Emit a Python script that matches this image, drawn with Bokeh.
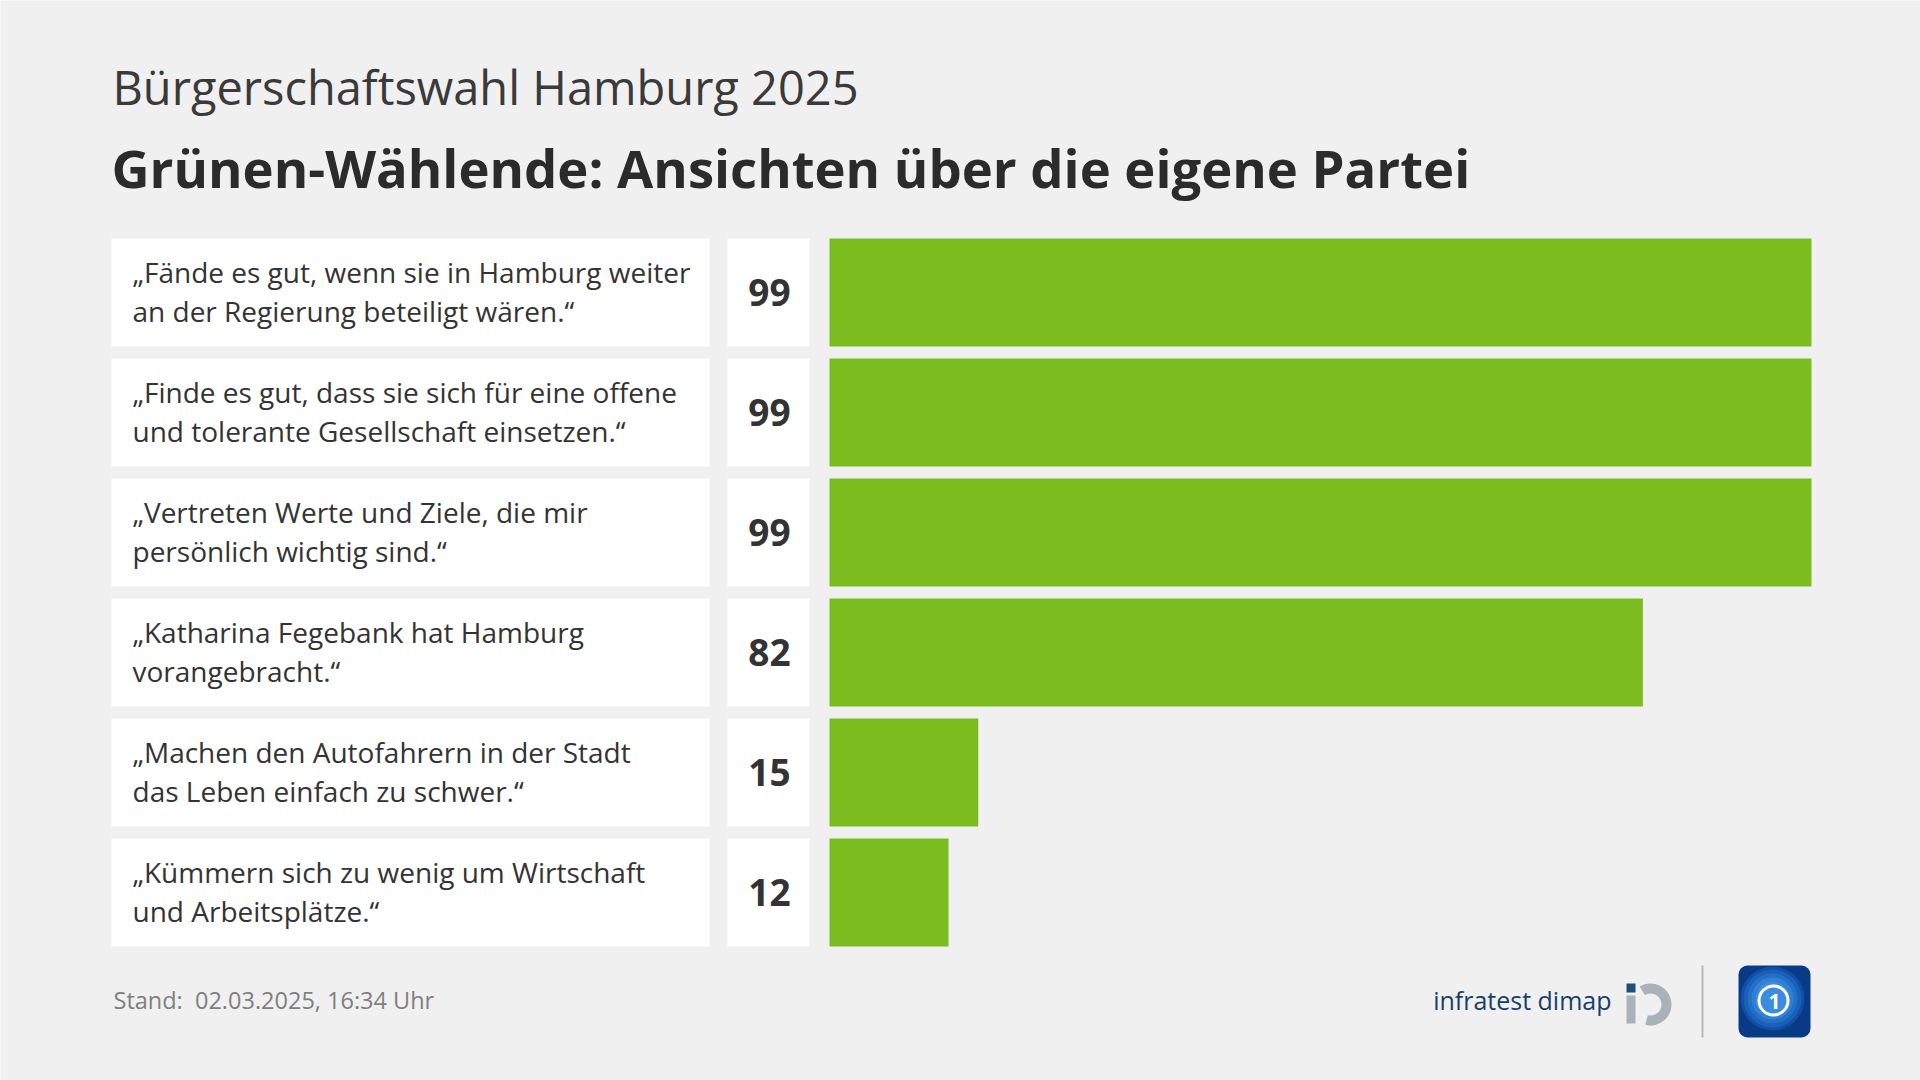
from bokeh.plotting import figure
from bokeh.models import Range1d, BoxAnnotation
from bokeh.core.properties import value
from bokeh.embed import file_html
from bokeh.resources import INLINE

# ---------------- data ----------------
subtitle = "Bürgerschaftswahl Hamburg 2025"
title = "Grünen-Wählende: Ansichten über die eigene Partei"
labels = [
    "„Fände es gut, wenn sie in Hamburg weiter\nan der Regierung beteiligt wären.“",
    "„Finde es gut, dass sie sich für eine offene\nund tolerante Gesellschaft einsetzen.“",
    "„Vertreten Werte und Ziele, die mir\npersönlich wichtig sind.“",
    "„Katharina Fegebank hat Hamburg\nvorangebracht.“",
    "„Machen den Autofahrern in der Stadt\ndas Leben einfach zu schwer.“",
    "„Kümmern sich zu wenig um Wirtschaft\nund Arbeitsplätze.“",
]
values = [99, 99, 99, 82, 15, 12]
footer = "Stand:\u00a0 02.03.2025, 16:34 Uhr"
source = "infratest dimap"

# ---------------- layout / style ----------------
FONT = "Open Sans"
BG = "#f0f0f0"
GREEN = "#7bbd1f"
DARK = "#333333"
ROW_TOP0, ROW_PITCH, ROW_H = 238, 120, 108
BAR_X0, PX_PER_UNIT = 829, 982 / 99.0
W, H = 1920, 1080

n = len(values)
tops = [ROW_TOP0 + i * ROW_PITCH for i in range(n)]
bottoms = [t + ROW_H for t in tops]
centers = [t + ROW_H / 2 for t in tops]
line1 = [s.split("\n")[0] for s in labels]
line2 = [s.split("\n")[1] if "\n" in s else "" for s in labels]
num_txt = [str(v) for v in values]

x0 = (0 - BAR_X0) / PX_PER_UNIT
x1 = (W - BAR_X0) / PX_PER_UNIT

p = figure(width=W, height=H, output_backend="svg", toolbar_location=None,
           x_range=Range1d(x0, x1), y_range=Range1d(H, 0), min_border=0)
p.extra_x_ranges = {"px": Range1d(0, W)}
p.axis.visible = False
p.grid.visible = False
p.outline_line_color = None
p.background_fill_color = BG
p.border_fill_color = BG

# white boxes
p.quad(left=111, right=709, top=tops, bottom=bottoms, x_range_name="px",
       fill_color="white", line_color=None)
p.quad(left=727, right=809, top=tops, bottom=bottoms, x_range_name="px",
       fill_color="white", line_color=None)

# bars (value scale)
p.hbar(y=centers, left=0, right=values, height=ROW_H, fill_color=GREEN, line_color=None)

# label text
p.text(x=[132] * n, y=[t + 33 for t in tops], text=line1, x_range_name="px",
       text_font=value(FONT), text_font_size="28px", text_color=DARK,
       text_baseline="alphabetic", text_align="left")
p.text(x=[132] * n, y=[t + 72 for t in tops], text=line2, x_range_name="px",
       text_font=value(FONT), text_font_size="28px", text_color=DARK,
       text_baseline="alphabetic", text_align="left")

# numbers
p.text(x=[769] * n, y=[c for c in centers], text=num_txt, x_range_name="px",
       text_font=value(FONT), text_font_size="37px", text_font_style="bold",
       text_color=DARK, text_baseline="middle", text_align="center")

# titles
p.text(x=[112], y=[86], text=[subtitle], x_range_name="px",
       text_font=value(FONT), text_font_size="47px", text_color="#3a3a3a",
       text_baseline="alphabetic", text_align="left")
p.text(x=[111], y=[167], text=[title], x_range_name="px",
       text_font=value(FONT), text_font_size="52.6px", text_font_style="bold",
       text_color="#2b2b2b", text_baseline="alphabetic", text_align="left")

# footer
p.text(x=[113], y=[999], text=[footer], x_range_name="px",
       text_font=value(FONT), text_font_size="23.5px", text_color="#7f7f7f",
       text_baseline="alphabetic", text_align="left")

# infratest dimap logo
p.text(x=[1611], y=[999], text=[source], x_range_name="px",
       text_font=value(FONT), text_font_size="25px",
       text_color="#163f6c", text_baseline="alphabetic", text_align="right")
p.quad(left=1626, right=1635, top=983, bottom=992, x_range_name="px",
       fill_color="#1d4f7a", line_color=None)
p.quad(left=1626, right=1635, top=995, bottom=1023, x_range_name="px",
       fill_color="#a9b1b9", line_color=None)
p.annular_wedge(x=1650, y=1004, inner_radius=11, outer_radius=21,
                inner_radius_units="screen", outer_radius_units="screen",
                start_angle=-1.82, end_angle=2.11, direction="anticlock",
                x_range_name="px", fill_color="#a9b1b9", line_color=None)

# separator
p.segment(x0=[1702], y0=[965], x1=[1702], y1=[1037], x_range_name="px",
          line_color="#b8b8b8", line_width=2)

# tagesschau-like icon
p.add_layout(BoxAnnotation(left=1738, right=1810, top=965, bottom=1037,
                           x_range_name="px", fill_color="#083a86", fill_alpha=1,
                           line_color=None, border_radius=9, level="underlay"))
for sz, col in [(64, "#0f4fa6"), (58, "#1860b8"), (50, "#2470c8"),
                (42, "#3080d4"), (34, "#3b8cde")]:
    p.scatter(x=[1772], y=[998], size=sz, marker="circle", x_range_name="px",
              fill_color=col, line_color=None)
p.scatter(x=[1773], y=[1000], size=29, marker="circle", x_range_name="px",
          fill_color=None, line_color="white", line_width=3)
p.text(x=[1774], y=[1001], text=["1"], x_range_name="px",
       text_font=value(FONT), text_font_size="21px", text_font_style="bold",
       text_color="white", text_baseline="middle", text_align="center")

open("out.html", "w").write(file_html(p, INLINE))
